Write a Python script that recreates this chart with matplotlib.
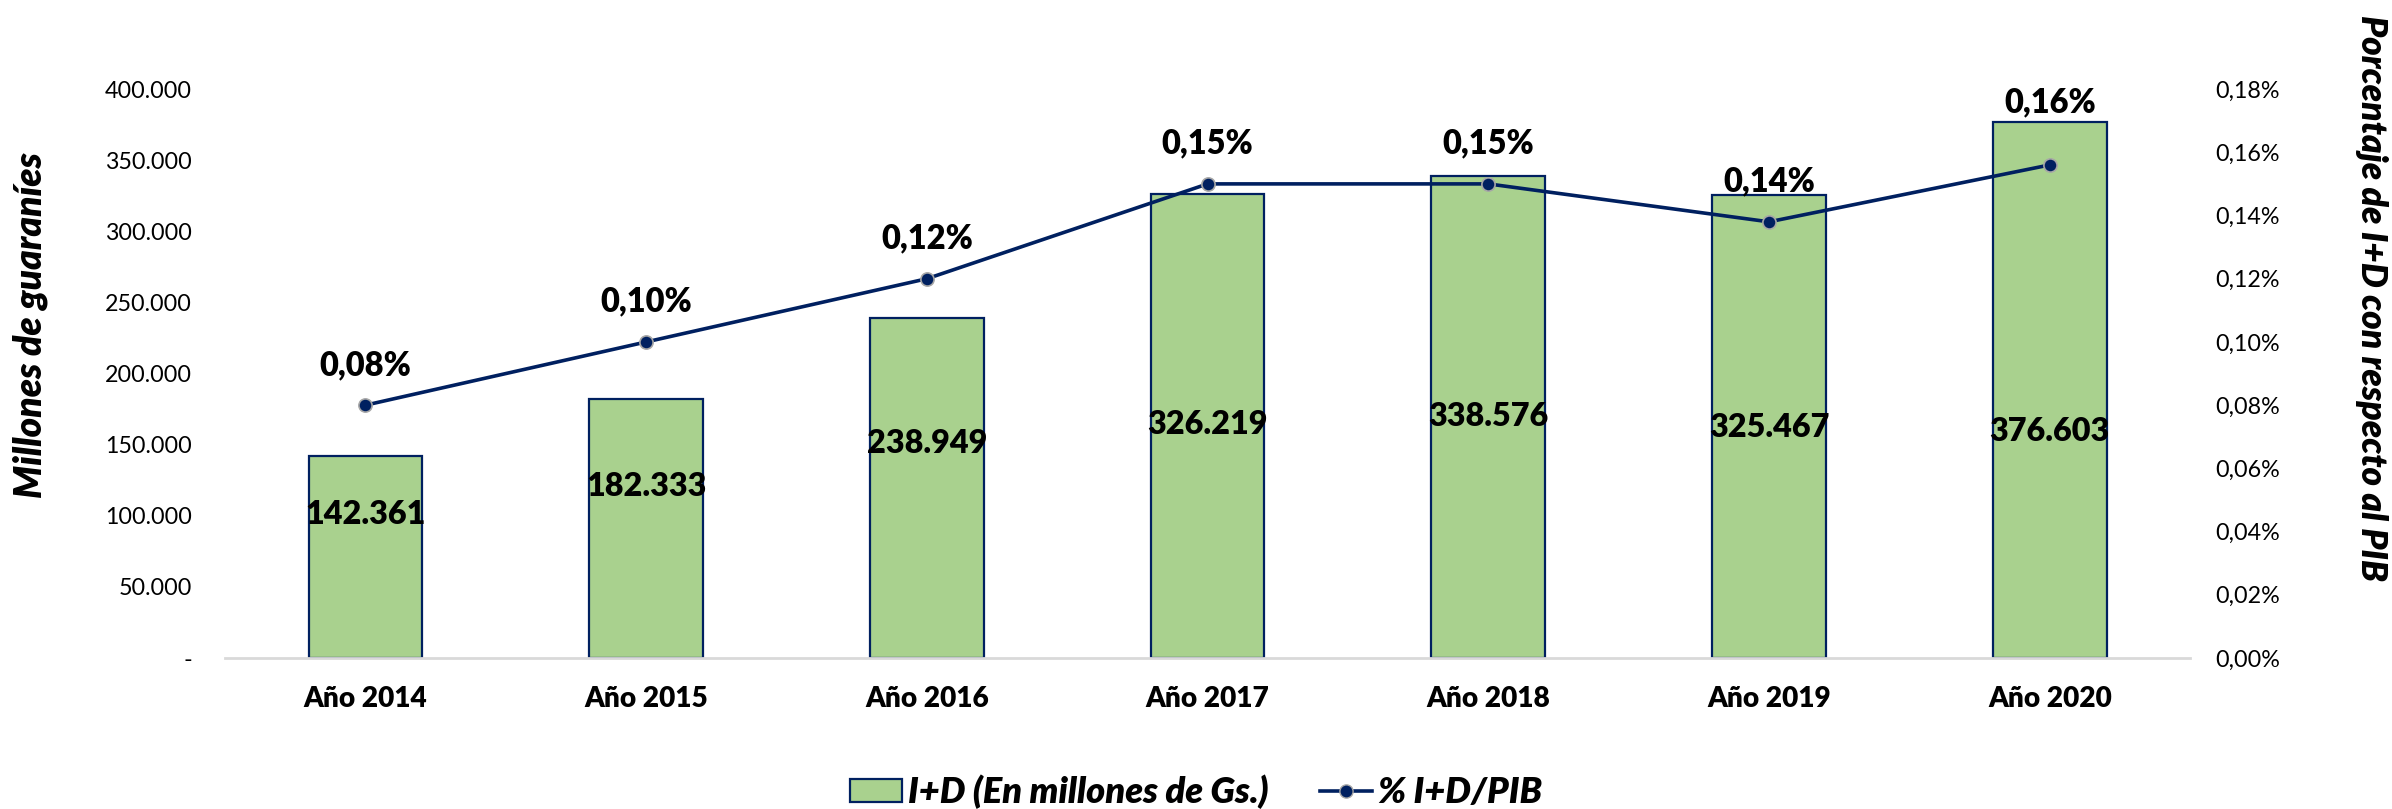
import matplotlib
matplotlib.use('Agg')
import matplotlib.pyplot as plt
from matplotlib.ticker import FuncFormatter, MultipleLocator
from matplotlib.lines import Line2D
from matplotlib.patches import Patch

# Datos
anios = ['Año 2014', 'Año 2015', 'Año 2016', 'Año 2017', 'Año 2018', 'Año 2019', 'Año 2020']
inversion = [142361, 182333, 238949, 326219, 338576, 325467, 376603]   # millones de Gs.
porcentaje = [0.08, 0.10, 0.12, 0.15, 0.15, 0.138, 0.156]              # % del PIB

# posicion vertical (en Gs.) de las etiquetas dentro de las barras, como en el original
alto_etiqueta = [100700, 120400, 150700, 164100, 169700, 162000, 159200]
# desplazamiento (pt) de las etiquetas de porcentaje sobre el punto
despl_pct = [29, 29, 29, 29, 29, 29, 45]

verde = '#A9D18E'
azul = '#002060'
fuente = ['Lato', 'DejaVu Sans']

fig = plt.figure(figsize=(23.92, 8.09), dpi=100)
renderer = fig.canvas.get_renderer()


def tamano(texto, ancho_px, **kw):
    # tamaño de letra para que el texto ocupe ancho_px pixeles (como en el original)
    t = fig.text(0, 0, texto, fontsize=10, family=fuente, **kw)
    w = t.get_window_extent(renderer).width
    t.remove()
    return 10 * ancho_px / w


fs_ticks = tamano('400.000', 86)
fs_barra = tamano('326.219', 120, fontweight='heavy')
fs_pct = tamano('0,15%', 92, fontweight='heavy')
fs_anio = tamano('Año 2014', 124, fontweight='heavy')
fs_tit_izq = tamano('Millones de guaraníes', 346, fontweight='heavy', style='italic')
fs_tit_der = tamano('Porcentaje de I+D con respecto al PIB', 567, fontweight='heavy', style='italic')
fs_leyenda = tamano('I+D (En millones de Gs.)', 361, fontweight='heavy', style='italic')

ax = fig.add_axes([0.0941, 0.1866, 0.8215, 0.7033])
x = range(len(anios))

ax.bar(x, inversion, width=0.405, color=verde, edgecolor=azul, linewidth=1.6, zorder=2)
ax.set_xlim(-0.5, 6.5)
ax.set_ylim(0, 400000)
ax.yaxis.set_major_locator(MultipleLocator(50000))
ax.yaxis.set_major_formatter(FuncFormatter(
    lambda v, p: '-' if v == 0 else f'{int(v):,}'.replace(',', '.')))

for s in ['top', 'right', 'left']:
    ax.spines[s].set_visible(False)
ax.spines['bottom'].set_color('#D9D9D9')
ax.spines['bottom'].set_linewidth(2)
ax.tick_params(axis='y', length=0, pad=24, labelsize=fs_ticks)
ax.tick_params(axis='x', length=0, pad=20)
for lab in ax.get_yticklabels():
    lab.set_family(fuente)
ax.set_xticks(list(x))
ax.set_xticklabels(anios, fontsize=fs_anio, fontweight='heavy', family=fuente)

for i, v in enumerate(inversion):
    ax.text(i, alto_etiqueta[i], f'{v:,}'.replace(',', '.'), ha='center', va='center',
            fontsize=fs_barra, fontweight='heavy', family=fuente, zorder=3)

ax2 = ax.twinx()
ax2.plot(x, porcentaje, color=azul, linewidth=2.6, marker='o', markersize=9.5,
         markerfacecolor=azul, markeredgecolor='#A6A6A6', markeredgewidth=1.2)
ax2.set_ylim(0, 0.18)
ax2.yaxis.set_major_locator(MultipleLocator(0.02))
ax2.yaxis.set_major_formatter(FuncFormatter(lambda v, p: f'{v:.2f}%'.replace('.', ',')))
for s in ['top', 'right', 'left', 'bottom']:
    ax2.spines[s].set_visible(False)
ax2.tick_params(axis='y', length=0, pad=18, labelsize=fs_ticks)
for lab in ax2.get_yticklabels():
    lab.set_family(fuente)

for i, v in enumerate(porcentaje):
    ax2.annotate(f'{v:.2f}%'.replace('.', ','), (i, v), xytext=(0, despl_pct[i]),
                 textcoords='offset points', ha='center', va='center',
                 fontsize=fs_pct, fontweight='heavy', family=fuente, annotation_clip=False)

fig.text(0.0128, 0.598, 'Millones de guaraníes', rotation=90, ha='center', va='center',
         fontsize=fs_tit_izq, fontweight='heavy', style='italic', family=fuente)
fig.text(0.9916, 0.632, 'Porcentaje de I+D con respecto al PIB', rotation=270, ha='center',
         va='center', fontsize=fs_tit_der, fontweight='heavy', style='italic', family=fuente)

pt = 0.72  # pt por pixel a 100 dpi
handles = [Patch(facecolor=verde, edgecolor=azul, linewidth=1.6),
           Line2D([0], [0], color=azul, linewidth=2.6, marker='o', markersize=9.5,
                  markerfacecolor=azul, markeredgecolor='#A6A6A6')]
fig.legend(handles, ['I+D (En millones de Gs.)', '% I+D/PIB'], loc='center',
           bbox_to_anchor=(0.5, 0.021), ncol=2, frameon=False,
           handlelength=52 * pt / fs_leyenda, handleheight=21 * pt / fs_leyenda,
           handletextpad=6 * pt / fs_leyenda, columnspacing=51 * pt / fs_leyenda,
           borderpad=0,
           prop={'family': fuente, 'size': fs_leyenda, 'weight': 'heavy', 'style': 'italic'})

fig.savefig('out.png', dpi=100)
